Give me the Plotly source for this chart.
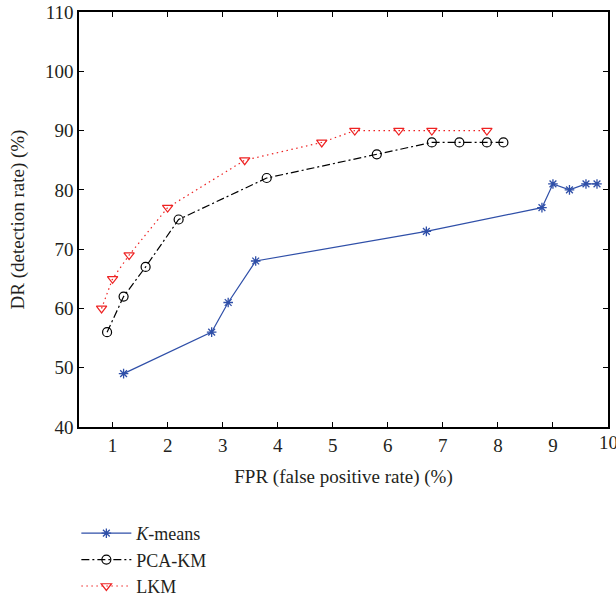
import plotly.graph_objects as go

km_x = [1.2, 2.8, 3.1, 3.6, 6.7, 8.8, 9.0, 9.3, 9.6, 9.8]
km_y = [49, 56, 61, 68, 73, 77, 81, 80, 81, 81]
pca_x = [0.9, 1.2, 1.6, 2.2, 3.8, 5.8, 6.8, 7.3, 7.8, 8.1]
pca_y = [56, 62, 67, 75, 82, 86, 88, 88, 88, 88]
lkm_x = [0.8, 1.0, 1.3, 2.0, 3.4, 4.8, 5.4, 6.2, 6.8, 7.8]
lkm_y = [60, 65, 69, 77, 85, 88, 90, 90, 90, 90]
x_ticks = [1, 2, 3, 4, 5, 6, 7, 8, 9, 10]
y_ticks = [40, 50, 60, 70, 80, 90, 100, 110]
X_MIN, X_MAX = 0.39, 10

FONT = "Liberation Serif, Times New Roman, serif"
TXT = "#231f20"

fig = go.Figure()
fig.add_trace(go.Scatter(
    x=km_x, y=km_y, name="<i>K</i>-means", mode="lines+markers",
    line=dict(color="#2f4fa8", width=1.2, dash="solid"),
    marker=dict(symbol="asterisk-open", size=8, color="#2f4fa8", line=dict(width=1.3, color="#2f4fa8")),
))
fig.add_trace(go.Scatter(
    x=pca_x, y=pca_y, name="PCA-KM", mode="lines+markers",
    line=dict(color="black", width=1.2, dash="8px,3px,2px,3px"),
    marker=dict(symbol="circle-open", size=9, color="black", line=dict(width=1.2, color="black")),
))
fig.add_trace(go.Scatter(
    x=lkm_x, y=lkm_y, name="LKM", mode="lines+markers",
    line=dict(color="#ee2222", width=1.2, dash="1.5px,3.5px"),
    marker=dict(symbol="triangle-down-open", size=9, color="#ee2222", line=dict(width=1.2, color="#ee2222")),
))

axis_common = dict(
    showline=True, linecolor="black", linewidth=1.5, mirror="ticks",
    ticks="inside", ticklen=5, tickwidth=1, tickcolor="black",
    showgrid=False, zeroline=False, automargin=False,
    tickfont=dict(family=FONT, size=19, color=TXT),
)
# the last x tick label sits at the very right edge; draw it as an annotation so it is clipped like the reference
x_ticktext = [str(t) if t < X_MAX else "" for t in x_ticks]
fig.update_xaxes(range=[X_MIN, X_MAX], tickvals=x_ticks, ticktext=x_ticktext,
                 title=dict(text="FPR (false positive rate) (%)", font=dict(family=FONT, size=19, color=TXT)),
                 **axis_common)
fig.update_yaxes(range=[40, 110], tickvals=y_ticks,
                 title=dict(text="DR (detection rate) (%)", font=dict(family=FONT, size=19, color=TXT)),
                 **axis_common)

for t in x_ticks:
    if t >= X_MAX:
        fig.add_annotation(x=t, y=0, xref="x", yref="paper", text=str(t), showarrow=False,
                           xanchor="center", yanchor="top", yshift=-3,
                           font=dict(family=FONT, size=19, color=TXT))

fig.update_layout(
    width=616, height=599,
    margin=dict(l=79, r=8, t=12, b=172, autoexpand=False),
    paper_bgcolor="white", plot_bgcolor="white",
    showlegend=True,
    legend=dict(x=-0.005, y=-0.212, xanchor="left", yanchor="top",
                font=dict(family=FONT, size=18, color=TXT),
                bgcolor="rgba(0,0,0,0)", itemwidth=50, tracegroupgap=0),
    font=dict(family=FONT, color=TXT),
)

fig.write_html("out.html")
